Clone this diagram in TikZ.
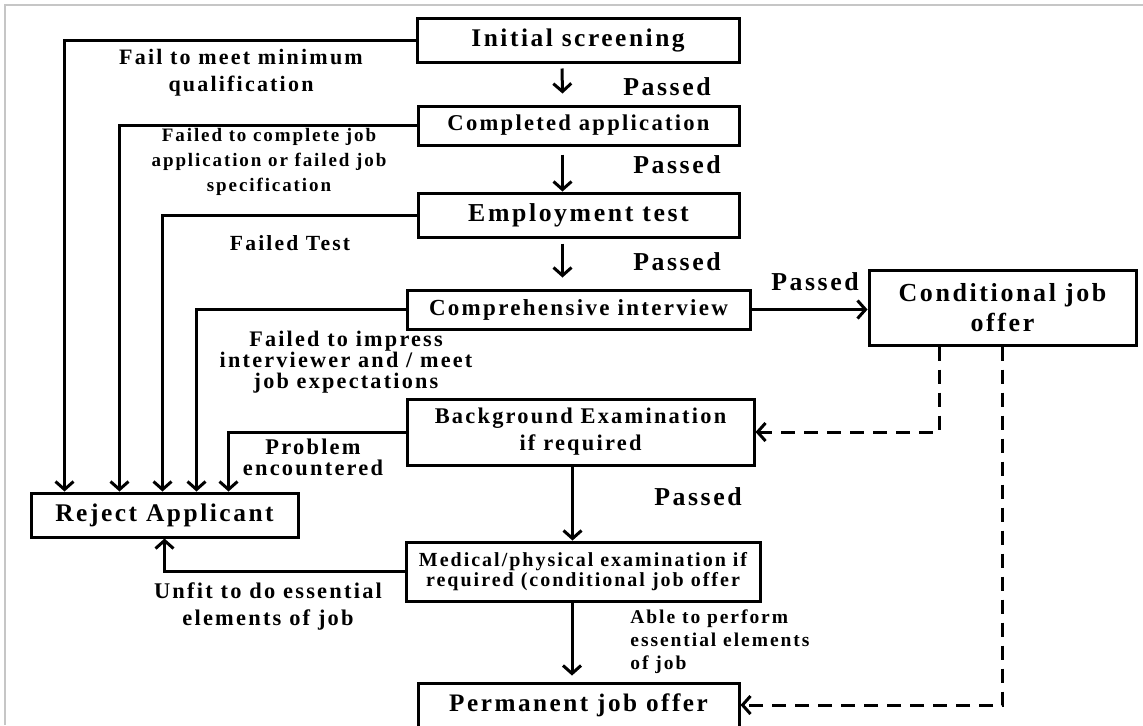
\documentclass[tikz,border=0pt]{standalone}
\usepackage{fontspec}
\setmainfont{Liberation Serif}[LetterSpace=10]
\usetikzlibrary{arrows.meta,calc}
\newcommand{\setfz}[2]{\fontsize{#1}{#2}\selectfont\bfseries}
\tikzset{
	stagebox/.style={rectangle, draw, line width=1.5pt, inner sep=0pt, align=center},
	reasonnode/.style={inner sep=0pt, align=center},
	passnode/.style={inner sep=0pt, font=\setfz{12.9}{14}},
	flowline/.style={line width=1.5pt, -{Straight Barb[length=4pt,width=9pt]}},
	offerline/.style={line width=1.5pt, dash pattern=on 7pt off 4.5pt, -{Straight Barb[length=4pt,width=9pt]}}
}

\begin{document}
\begin{tikzpicture}[x=0.5pt,y=-0.5pt]
	\useasboundingbox (0,0) rectangle (1143,725);
	\clip (0,0) rectangle (1143,725);
	\draw[gray!45, line width=1pt] (5,725) -- (5,4.5) -- (1143,4.5);

	\node[stagebox, minimum width=161pt, minimum height=22pt, font=\setfz{12.7}{14}] (init) at (578,40) {Initial screening};
	\node[stagebox, minimum width=160.5pt, minimum height=19.5pt, font=\setfz{11.3}{13}] (compl) at (578.5,125.5) {Completed application};
	\node[stagebox, minimum width=160.5pt, minimum height=22pt, font=\setfz{12.9}{14}] (empl) at (578.5,215) {Employment test};
	\node[stagebox, minimum width=171.5pt, minimum height=19.5pt, font=\setfz{11.5}{13}] (interv) at (578.5,309.5) {Comprehensive interview};
	\node[stagebox, minimum width=173.5pt, minimum height=33pt, font=\setfz{11.2}{13.5}] (backg) at (580.5,432) {Background Examination\\if required};
	\node[stagebox, minimum width=177pt, minimum height=29.5pt, font=\setfz{10}{10}] (medic) at (583,571.5) {Medical/physical examination if\\required (conditional job offer};
	\node[stagebox, minimum width=160.5pt, minimum height=22pt, font=\setfz{12.6}{14}] (perm) at (578.5,705) {Permanent job offer};
	\node[stagebox, minimum width=133.5pt, minimum height=37.5pt, font=\setfz{13}{15}] (cond) at (1002.5,307.5) {Conditional job\\offer};
	\node[stagebox, minimum width=133.5pt, minimum height=22pt, font=\setfz{12.7}{14}] (reject) at (164.5,515) {Reject Applicant};

	\node[reasonnode, font=\setfz{11}{13.5}] (rminimum) at (241,73) {Fail to meet minimum\\qualification};
	\node[reasonnode, font=\setfz{9.5}{12.3}] (rapplic) at (269,162) {Failed to complete job\\application or failed job\\specification};
	\node[reasonnode, font=\setfz{10.8}{12}] (rtest) at (290,243) {Failed Test};
	\node[reasonnode, font=\setfz{11.1}{10.5}] (rinterv) at (346,362) {Failed to impress\\interviewer and / meet\\job expectations};
	\node[reasonnode, font=\setfz{11.2}{10.5}] (rproblem) at (313,457) {Problem\\encountered};
	\node[reasonnode, font=\setfz{11.2}{13.5}] (runfit) at (268,606) {Unfit to do essential\\elements of job};
	\node[reasonnode, align=left, anchor=west, font=\setfz{9.75}{11.5}] (rable) at (630,642) {Able to perform\\essential elements\\of job};

	\node[passnode] (pass1) at (667,87) {Passed};
	\node[passnode] (pass2) at (677,165) {Passed};
	\node[passnode] (pass3) at (677,262) {Passed};
	\node[passnode] (pass4) at (698,497) {Passed};
	\node[passnode] (pass5) at (815,282) {Passed};

	\draw[flowline] (init.west) -| ([xshift=17.5pt]reject.north west);
	\draw[flowline] (compl.west) -| ([xshift=45pt]reject.north west);
	\draw[flowline] (empl.west) -| ([xshift=66.5pt]reject.north west);
	\draw[flowline] (interv.west) -| ([xshift=83.5pt]reject.north west);
	\draw[flowline] (backg.west) -| ([xshift=99.5pt]reject.north west);
	\draw[flowline] (medic.west) -| (reject.south);

	\draw[flowline] ([xshift=-8pt,yshift=-2.5pt]init.south) -- ([xshift=-8pt,yshift=5.5pt]compl.north);
	\draw[flowline] ([xshift=-8pt,yshift=-4pt]compl.south) -- ([xshift=-8pt]empl.north);
	\draw[flowline] ([xshift=-8pt,yshift=-2.5pt]empl.south) -- ([xshift=-8pt,yshift=5.5pt]interv.north);
	\draw[flowline] ($(backg.south)+(-4pt,0)$) -- ($(backg.south |- medic.north)+(-4pt,0)$);
	\draw[flowline] ($(medic.south)+(-5.5pt,0)$) -- ($(medic.south |- perm.north)+(-5.5pt,3pt)$);
	\draw[flowline] (interv.east) -- (interv.east -| cond.west);

	\draw[offerline] ([xshift=-31.75pt]cond.south) |- (backg.east);
	\draw[offerline] (cond.south) |- (perm.east);
\end{tikzpicture}
\end{document}
